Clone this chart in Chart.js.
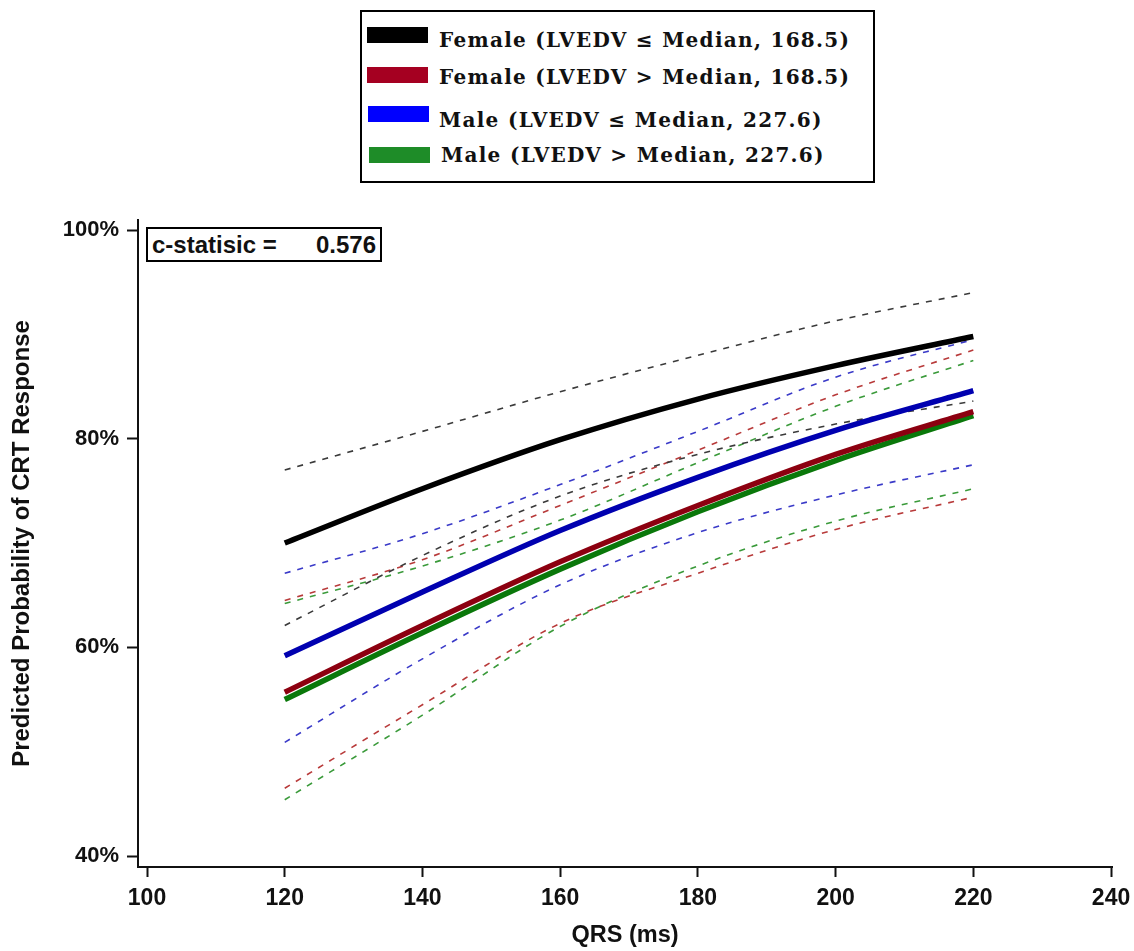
<!DOCTYPE html>
<html>
<head>
<meta charset="utf-8">
<script src="https://cdn.jsdelivr.net/npm/chart.js@4"></script>
<style>
  html, body { margin: 0; padding: 0; background: #fff; }
  #wrap { position: relative; width: 1134px; height: 951px; }
  #chart { position: absolute; left: 0; top: 0; }
  #legend {
    position: absolute; left: 360px; top: 10px; width: 511px; height: 169px;
    border: 2px solid #000; background: #fff;
    font-family: "DejaVu Serif", "Liberation Serif", serif; font-weight: bold; font-size: 20px; color: #111;
    letter-spacing: 1.3px;
  }
  .sw { position: absolute; width: 61px; height: 16px; }
  .lbl { position: absolute; line-height: 22px; white-space: nowrap; }
  #cstat {
    position: absolute; left: 146px; top: 227px; width: 232px; height: 31px;
    border: 2px solid #000; background: #fff;
    font-family: "Liberation Sans", Arial, sans-serif; font-weight: bold; font-size: 24px; color: #111;
  }
  #cstat .a { position: absolute; left: 4px; top: 2px; line-height: 28px; }
  #cstat .b { position: absolute; right: 4px; top: 2px; line-height: 28px; }
</style>
</head>
<body>
<div id="wrap">
  <canvas id="chart" width="1134" height="951"></canvas>
  <div id="legend"></div>
  <div id="cstat"><span class="a">c-statisic =</span><span class="b">0.576</span></div>
</div>
<script>
// ---- data ----
const qrs = [120, 140, 160, 180, 200, 220];
const xTicks = [100, 120, 140, 160, 180, 200, 220, 240];
const yTicks = [40, 60, 80, 100];

const femaleLow      = [70.0, 75.2, 79.9, 83.8, 87.0, 89.8];
const femaleLowUpper = [77.0, 80.7, 84.5, 88.0, 91.3, 94.0];
const femaleLowLower = [62.1, 68.8, 74.5, 78.5, 81.4, 83.6];

const femaleHigh      = [55.7, 62.1, 68.2, 73.6, 78.5, 82.6];
const femaleHighUpper = [64.5, 68.4, 73.6, 78.9, 84.2, 88.5];
const femaleHighLower = [46.5, 54.5, 62.3, 67.1, 71.3, 74.4];

const maleLow      = [59.2, 65.3, 71.2, 76.3, 80.8, 84.6];
const maleLowUpper = [67.1, 70.9, 75.6, 80.7, 85.9, 89.5];
const maleLowLower = [50.9, 58.9, 66.0, 71.0, 74.6, 77.5];

const maleHigh      = [55.0, 61.4, 67.5, 73.0, 77.9, 82.2];
const maleHighUpper = [64.2, 67.8, 72.2, 77.7, 83.1, 87.5];
const maleHighLower = [45.4, 53.5, 62.0, 67.8, 72.1, 75.2];

const legendLabels = [
  "Female (LVEDV \u2264 Median, 168.5)",
  "Female (LVEDV > Median, 168.5)",
  "Male (LVEDV \u2264 Median, 227.6)",
  "Male (LVEDV > Median, 227.6)"
];

// ---- styles ----
const solidColors  = ["#000000", "#8c0010", "#0000b0", "#0a780a"];
const dashColors   = ["#3a3a3a", "#b83a3a", "#3a3ac8", "#3a9a3a"];
const swatchColors = ["#000000", "#a50021", "#0000ff", "#1e8c28"];

// ---- legend (HTML) ----
const legendEl = document.getElementById('legend');
const rowSw = [15, 55, 94, 135];
const rowTx = [17, 54, 97, 132];
const swX = [5, 5, 6, 7];
const txX = [77, 77, 77, 79];
legendLabels.forEach((t, i) => {
  const sw = document.createElement('div');
  sw.className = 'sw';
  sw.style.left = swX[i] + 'px';
  sw.style.top = rowSw[i] + 'px';
  sw.style.background = swatchColors[i];
  legendEl.appendChild(sw);
  const lb = document.createElement('div');
  lb.className = 'lbl';
  lb.style.top = rowTx[i] + 'px';
  lb.style.left = txX[i] + 'px';
  lb.textContent = t;
  legendEl.appendChild(lb);
});

function pts(arr) { return arr.map((v, i) => ({ x: qrs[i], y: v })); }
function solid(arr, c) {
  return { data: pts(arr), borderColor: c, borderWidth: 5.5, pointRadius: 0,
           cubicInterpolationMode: 'monotone', fill: false, borderCapStyle: 'butt' };
}
function dashed(arr, c) {
  return { data: pts(arr), borderColor: c, borderWidth: 1.6, borderDash: [6, 7], pointRadius: 0,
           cubicInterpolationMode: 'monotone', fill: false };
}

const datasets = [
  solid(femaleLow, solidColors[0]),
  solid(maleLow, solidColors[2]),
  solid(femaleHigh, solidColors[1]),
  solid(maleHigh, solidColors[3]),
  dashed(femaleLowUpper, dashColors[0]), dashed(femaleLowLower, dashColors[0]),
  dashed(femaleHighUpper, dashColors[1]), dashed(femaleHighLower, dashColors[1]),
  dashed(maleLowUpper, dashColors[2]), dashed(maleLowLower, dashColors[2]),
  dashed(maleHighUpper, dashColors[3]), dashed(maleHighLower, dashColors[3])
];

const tickFont = { family: '"Liberation Sans", Arial, sans-serif', weight: 'bold' };

new Chart(document.getElementById('chart'), {
  type: 'line',
  data: { datasets },
  options: {
    responsive: false,
    animation: false,
    devicePixelRatio: 1,
    layout: { padding: { top: 220, right: 22, bottom: 0, left: 0 } },
    plugins: { legend: { display: false }, tooltip: { enabled: false } },
    scales: {
      x: {
        type: 'linear',
        min: 98.69, max: 240.14,
        afterBuildTicks: s => { s.ticks = xTicks.map(v => ({ value: v })); },
        afterFit: s => { s.height = 84; s.paddingLeft = 0; s.paddingRight = 0; },
        grid: { display: true, drawOnChartArea: false, drawTicks: true, tickLength: 10,
                tickWidth: 2, tickColor: '#111' },
        border: { display: true, color: '#111', width: 2 },
        ticks: { color: '#111', font: { ...tickFont, size: 23 }, padding: 8, maxRotation: 0 },
        title: { display: true, text: 'QRS (ms)', color: '#111',
                 font: { ...tickFont, size: 23.5 }, padding: { top: 0, bottom: 1 } }
      },
      y: {
        type: 'linear',
        min: 38.95, max: 100.96,
        afterBuildTicks: s => { s.ticks = yTicks.map(v => ({ value: v })); },
        afterFit: s => { s.width = 138; s.paddingTop = 0; s.paddingBottom = 0; },
        grid: { display: true, drawOnChartArea: false, drawTicks: true, tickLength: 11,
                tickWidth: 2, tickColor: '#111' },
        border: { display: true, color: '#111', width: 2 },
        ticks: { color: '#111', font: { ...tickFont, size: 22 }, padding: 8,
                 callback: v => v + '%' },
        title: { display: true, text: 'Predicted Probability of CRT Response', color: '#111',
                 font: { ...tickFont, size: 24 }, padding: { top: 8, bottom: 0 } }
      }
    }
  }
});
</script>
</body>
</html>
